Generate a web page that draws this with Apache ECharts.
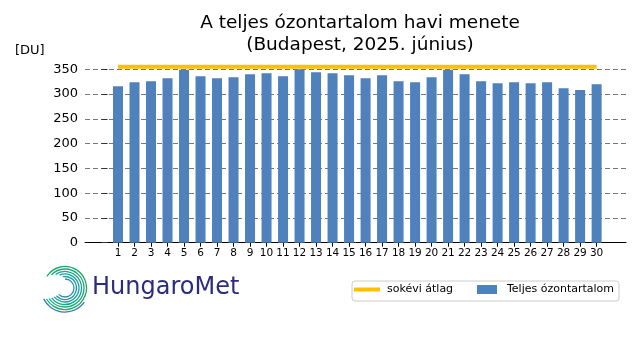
<!DOCTYPE html>
<html>
<head>
<meta charset="utf-8">
<script src="https://cdn.jsdelivr.net/npm/echarts@6/dist/echarts.min.js"></script>
<style>html,body{margin:0;padding:0;background:#fff}#c{width:640px;height:360px}</style>
</head>
<body>
<div id="c"></div>
<script>
const days = [1,2,3,4,5,6,7,8,9,10,11,12,13,14,15,16,17,18,19,20,21,22,23,24,25,26,27,28,29,30];
const totalOzone = [316,324,326,332,349,336,332,334,340,342,336,350,344,342,338,332,338,326,324,334,349,340,326,322,324,322,324,312,308,320];
const longTermAvg = [355,355,355,355,355,355,355,355,355,355,355,355,355,355,355,355,355,355,355,355,355,355,355,355,355,355,355,355,355,355];
const yTicks = [0,50,100,150,200,250,300,350];

const chart = echarts.init(document.getElementById('c'), null, {renderer:'canvas'});
const FONT = 'DejaVu Sans';

const arcs = [];
const radii = [9,11.5,14,16.5,19,21.5];
const cols = ['#2a8fb0','#1f9aa8','#17a39a','#13a88a','#1aa878','#25a86a'];
radii.forEach((r,i)=>{
  arcs.push({type:'arc', shape:{cx:65, cy:288, r:r, startAngle:-Math.PI*0.5 - 0.2*i, endAngle:Math.PI*0.75 + 0.05*i, clockwise:true},
    style:{stroke:cols[i], lineWidth:1.3, fill:null}, silent:true});
});
arcs.push({type:'arc', shape:{cx:65, cy:288, r:24, startAngle:Math.PI*0.2, endAngle:Math.PI*0.85, clockwise:true},
  style:{stroke:'#2f7fb5', lineWidth:1.3, fill:null}, silent:true});

chart.setOption({
  animation:false,
  textStyle:{fontFamily:FONT},
  title:{
    text:'A teljes ózontartalom havi menete\n(Budapest, 2025. június)',
    left:355, top:7, textAlign:'center',
    textStyle:{fontFamily:FONT, fontSize:18.5, fontWeight:'normal', color:'#000', lineHeight:22}
  },
  grid:{left:85, right:14, top:69.3, bottom:117.3, containLabel:false},
  legend:[
    {data:['sokévi átlag'], left:354, top:284, padding:0, itemWidth:26, itemHeight:4, icon:'rect',
     textStyle:{fontFamily:FONT, fontSize:11, color:'#000', padding:[0,0,0,2]}},
    {data:['Teljes ózontartalom'], left:477, top:284, padding:0, itemWidth:20, itemHeight:9, icon:'rect',
     textStyle:{fontFamily:FONT, fontSize:11, color:'#000', padding:[0,0,0,5]}}
  ],
  xAxis:{
    type:'value', min:-1, max:31.78,
    axisLine:{show:true, onZero:false, lineStyle:{color:'#000', width:1}},
    axisTick:{show:true, customValues:days, length:4, lineStyle:{color:'#000'}},
    axisLabel:{customValues:days, fontFamily:FONT, fontSize:10.5, color:'#000', margin:5},
    splitLine:{show:false}
  },
  yAxis:{
    type:'value', min:0, max:350, interval:50,
    axisLine:{show:false},
    axisTick:{show:true, inside:true, length:6, lineStyle:{color:'#333'}},
    axisLabel:{fontFamily:FONT, fontSize:13, color:'#000', margin:7},
    splitLine:{show:true, lineStyle:{color:'#777', type:[5,3], width:1}}
  },
  series:[
    {name:'Teljes ózontartalom', type:'bar', barWidth:10,
     itemStyle:{color:'#4f81bd'},
     data: days.map((d,i)=>[d, totalOzone[i]]), z:2},
    {name:'sokévi átlag', type:'line', clip:false, showSymbol:false, symbol:'none',
     lineStyle:{color:'#ffc000', width:4, cap:'butt'}, itemStyle:{color:'#ffc000'},
     data: days.map((d,i)=>[d, longTermAvg[i]]), z:3}
  ],
  graphic:[
    {type:'text', left:15, top:44,
     style:{text:'[DU]', fontFamily:FONT, fontSize:13, fill:'#000'}, silent:true},
    {type:'rect', shape:{x:352, y:281, width:267, height:20, r:3},
     style:{fill:'rgba(255,255,255,0.8)', stroke:'#cccccc', lineWidth:1}, z:-1, silent:true},
    {type:'text', left:92, top:276,
     style:{text:'HungaroMet', fontFamily:'DejaVu Sans', fontSize:24, fill:'#2b2d7c', fontWeight:'normal'}, silent:true},
    ...arcs
  ]
});
</script>
</body>
</html>
